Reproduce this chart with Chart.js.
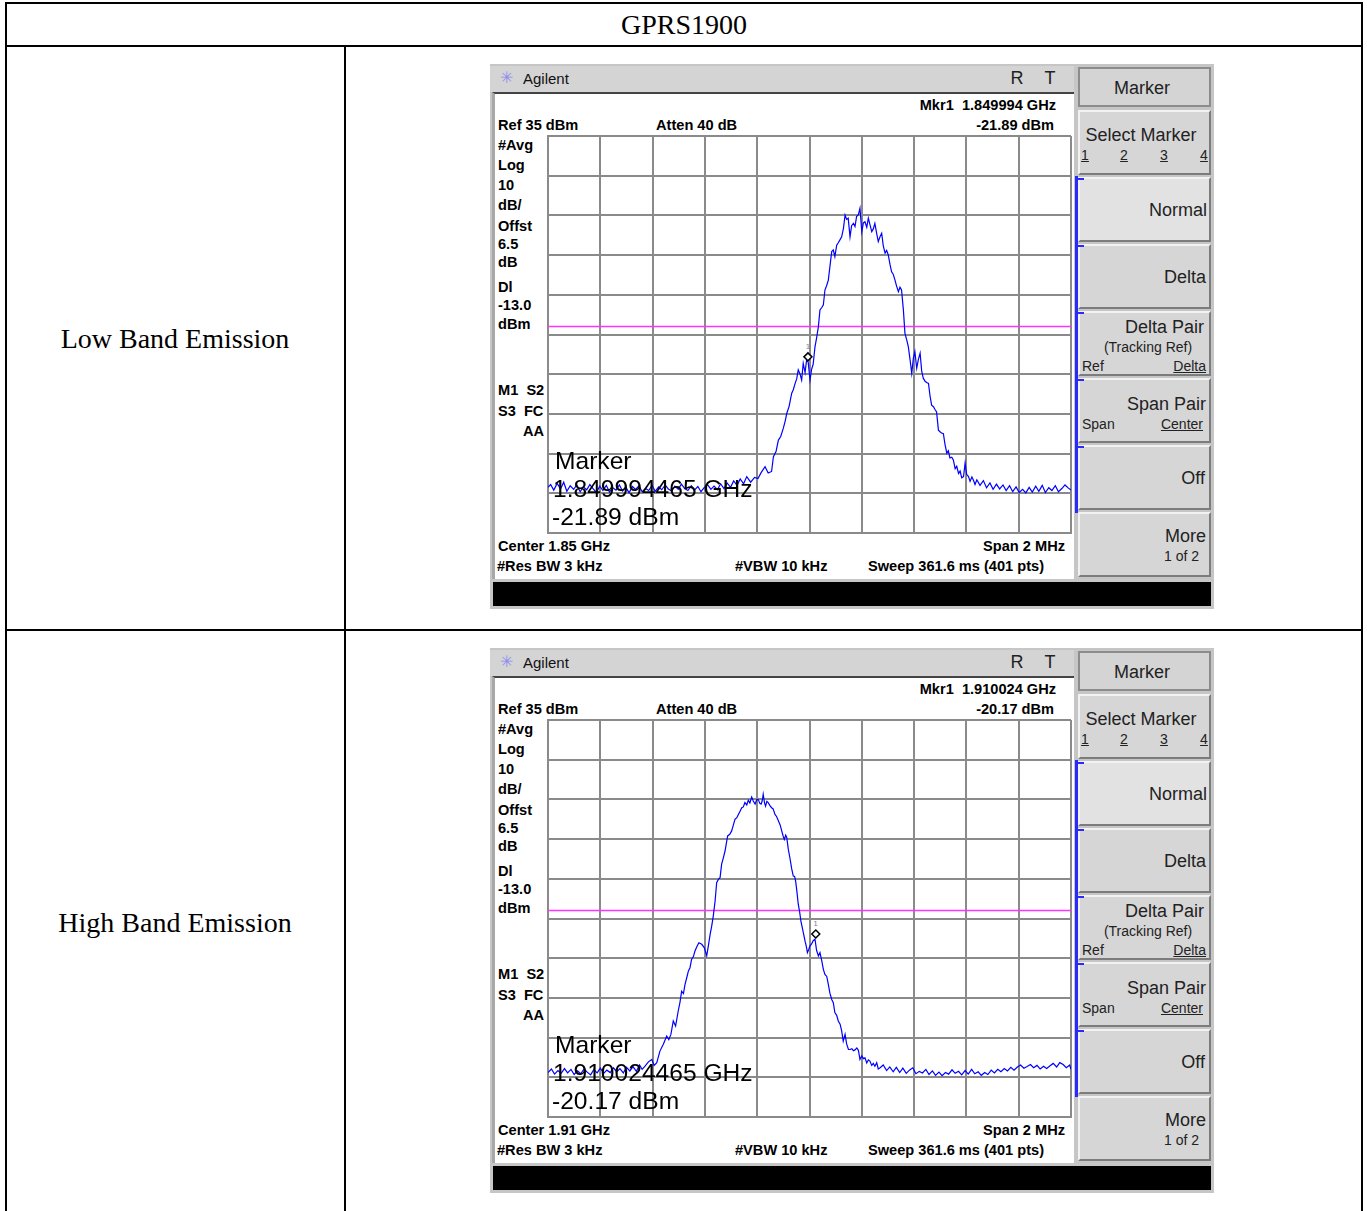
<!DOCTYPE html>
<html>
<head>
<meta charset="utf-8">
<title>GPRS1900</title>
<script src="https://cdn.jsdelivr.net/npm/chart.js@4.4.1/dist/chart.umd.min.js"></script>
<style>
  body { margin: 0; background: #fff; width: 1367px; height: 1211px; overflow: hidden; position: relative;
         font-family: "Liberation Sans", Arial, sans-serif; }
  .rule { position: absolute; background: #000; }
  .serif { position: absolute; font-family: "Liberation Serif", "Times New Roman", serif; font-size: 28px;
           line-height: 1; transform: translate(-50%, -50%); white-space: nowrap; }
  .panel { position: absolute; left: 490px; width: 724px; height: 545px; background: #c6c6c6; }
  .panel div { position: absolute; white-space: pre; line-height: 1; }
  .lbl { font-weight: bold; font-size: 14.6px; color: #000; }
  .key { background: #d6d6d6; border-top: 2px solid #f2f2f2; border-left: 2px solid #f2f2f2;
         border-right: 2px solid #7c7c7c; border-bottom: 2px solid #7c7c7c; box-sizing: border-box; color: #1a1a1a; }
  .u { text-decoration: underline; }
</style>
</head>
<body>

<div class="rule" style="left:5px; top:2px; width:1358px; height:2px;"></div>
<div class="rule" style="left:5px; top:45px; width:1358px; height:2px;"></div>
<div class="rule" style="left:5px; top:629px; width:1358px; height:2px;"></div>
<div class="rule" style="left:5px; top:2px; width:2px; height:1215px;"></div>
<div class="rule" style="left:1361px; top:2px; width:2px; height:1215px;"></div>
<div class="rule" style="left:344px; top:45px; width:2px; height:1170px;"></div>

<div class="serif" style="left:684px; top:25px;">GPRS1900</div>
<div class="serif" style="left:175px; top:339px;">Low Band Emission</div>
<div class="serif" style="left:175px; top:923px;">High Band Emission</div>

<script>
// ---- trace data: [offset from centre in kHz, level in dBm] ----
const lowTrace = [
  [-1000,-53.5],[-990,-52.8],[-978,-54.2],[-965,-52.5],[-952,-53.9],[-940,-52.2],[-928,-54.5],[-915,-53.1],
  [-902,-54.0],[-890,-52.9],[-877,-54.6],[-865,-53.4],[-852,-54.1],[-840,-52.8],[-827,-53.9],[-815,-54.8],
  [-802,-53.2],[-790,-54.3],[-777,-53.0],[-765,-54.7],[-752,-53.6],[-740,-54.2],[-727,-52.9],[-715,-54.4],
  [-702,-53.5],[-690,-54.9],[-677,-53.3],[-665,-54.0],[-652,-53.1],[-640,-54.6],[-627,-53.8],[-615,-54.3],
  [-602,-53.0],[-590,-54.5],[-577,-53.4],[-565,-54.1],[-552,-52.9],[-540,-53.9],[-527,-54.4],[-515,-53.2],
  [-502,-54.0],[-490,-52.7],[-477,-53.8],[-465,-54.3],[-452,-53.1],[-440,-54.2],[-427,-53.3],[-415,-54.6],
  [-402,-53.5],[-390,-52.8],[-377,-54.0],[-365,-53.2],[-352,-54.1],[-340,-52.6],[-327,-53.8],[-315,-52.4],
  [-302,-53.5],[-290,-51.9],[-277,-53.0],[-265,-51.4],[-252,-52.6],[-240,-50.8],[-225,-52.2],[-210,-51.0],
  [-197,-51.3],[-185,-49.8],[-170,-48.3],[-158,-49.9],[-145,-49.5],[-138,-45.8],[-128,-44.5],[-119,-41.6],
  [-110,-40.7],[-100,-38.6],[-93,-36.8],[-87,-34.9],[-78,-33.1],[-68,-29.8],[-62,-28.9],[-55,-27.3],
  [-49,-26.2],[-43,-23.9],[-36,-25.0],[-30,-26.5],[-24,-22.3],[-17,-24.6],[-11,-21.4],[-5,-22.0],
  [2,-26.5],[8,-23.8],[14,-22.5],[21,-18.1],[27,-15.9],[34,-13.0],[40,-8.8],[47,-8.2],[53,-7.5],
  [59,-3.8],[66,-2.6],[72,-1.3],[78,2.1],[85,5.9],[91,6.3],[97,4.6],[104,7.5],[110,8.1],[117,8.9],
  [123,9.6],[130,11.8],[136,15.1],[142,14.0],[148,14.3],[155,9.6],[161,12.4],[168,13.0],[174,12.2],
  [180,14.7],[187,15.2],[193,16.8],[200,10.9],[206,13.1],[212,13.4],[219,12.0],[225,14.3],[232,12.5],
  [238,10.9],[244,11.6],[250,13.0],[257,10.4],[263,8.4],[270,9.7],[276,10.5],[282,7.4],[289,5.5],
  [295,6.2],[301,5.1],[308,2.6],[314,0.8],[320,0.2],[327,-1.3],[333,-2.8],[340,-4.2],[346,-3.1],
  [352,-3.8],[359,-8.8],[365,-14.7],[372,-16.4],[378,-18.1],[385,-21.6],[391,-24.8],[397,-21.0],
  [403,-19.3],[410,-23.5],[416,-21.4],[423,-19.7],[429,-24.2],[435,-26.0],[442,-26.8],[448,-27.1],
  [455,-27.3],[461,-30.5],[467,-32.8],[474,-33.2],[480,-33.9],[486,-34.5],[493,-39.1],[499,-39.5],
  [505,-39.8],[512,-40.0],[518,-42.6],[525,-44.9],[531,-44.3],[537,-46.1],[544,-45.9],[550,-46.6],
  [557,-48.8],[563,-48.2],[570,-50.0],[576,-49.4],[582,-51.1],[589,-50.8],[595,-47.4],[601,-50.2],
  [608,-50.8],[614,-52.0],[621,-50.9],[627,-51.7],[633,-52.8],[640,-51.6],[652,-53.0],[665,-51.8],
  [677,-53.6],[690,-52.4],[702,-54.0],[715,-52.7],[727,-53.9],[740,-52.9],[752,-54.3],[765,-53.1],
  [777,-54.6],[790,-53.4],[802,-54.8],[815,-54.0],[827,-54.9],[840,-53.5],[852,-54.7],[865,-53.2],
  [877,-54.5],[890,-53.0],[902,-54.8],[915,-53.6],[927,-54.3],[940,-53.1],[952,-54.6],[965,-53.8],
  [977,-52.9],[990,-53.7],[1000,-54.2]
];

const highTrace = [
  [-1000,-53.8],[-987,-52.9],[-975,-54.2],[-962,-53.3],[-950,-54.0],[-937,-52.8],[-925,-53.9],[-912,-53.0],
  [-900,-54.3],[-887,-53.4],[-875,-54.1],[-862,-52.9],[-850,-53.7],[-837,-54.4],[-825,-53.1],[-812,-53.9],
  [-800,-52.7],[-787,-54.0],[-775,-53.2],[-762,-53.8],[-750,-52.6],[-737,-53.6],[-725,-52.8],[-712,-53.9],
  [-700,-52.5],[-687,-53.4],[-675,-52.3],[-662,-53.5],[-650,-51.9],[-640,-53.0],[-629,-52.2],[-616,-51.1],
  [-603,-50.5],[-594,-52.0],[-584,-51.3],[-572,-48.4],[-559,-46.7],[-546,-44.6],[-538,-45.5],[-530,-44.2],
  [-521,-40.8],[-512,-42.1],[-502,-38.3],[-495,-36.0],[-489,-33.3],[-482,-33.9],[-476,-31.6],[-469,-29.8],
  [-463,-28.2],[-457,-27.4],[-451,-25.3],[-444,-24.6],[-438,-23.2],[-430,-22.0],[-423,-21.1],[-412,-21.5],
  [-402,-22.4],[-393,-24.4],[-386,-21.6],[-380,-19.0],[-374,-16.9],[-368,-14.4],[-361,-10.6],[-355,-6.0],
  [-348,-5.1],[-342,-4.7],[-336,-1.3],[-329,0.4],[-323,2.0],[-318,3.9],[-313,5.8],[-305,6.2],[-298,7.0],
  [-291,8.6],[-285,10.0],[-278,10.4],[-272,11.2],[-265,12.1],[-259,12.9],[-253,13.1],[-247,14.2],
  [-240,13.6],[-234,14.8],[-228,14.1],[-221,15.6],[-215,14.6],[-208,13.8],[-202,14.9],[-196,15.0],
  [-190,14.0],[-185,13.8],[-181,14.6],[-177,16.3],[-172,14.1],[-168,13.3],[-163,14.5],[-158,14.2],
  [-152,13.5],[-145,12.9],[-139,12.6],[-132,11.2],[-126,10.7],[-119,9.6],[-112,8.5],[-106,7.0],
  [-100,5.6],[-96,4.9],[-91,6.0],[-87,5.4],[-81,2.4],[-75,0.3],[-68,-2.5],[-62,-4.3],[-57,-4.4],
  [-53,-5.6],[-48,-8.3],[-43,-11.4],[-38,-13.2],[-33,-15.6],[-25,-18.1],[-17,-20.7],[-12,-22.1],
  [-8,-23.6],[-3,-22.8],[2,-21.9],[8,-21.4],[14,-20.6],[21,-20.2],[27,-23.0],[34,-24.4],[40,-23.6],
  [47,-25.7],[53,-27.8],[59,-29.1],[66,-29.6],[72,-31.6],[78,-33.8],[85,-35.4],[91,-36.2],[97,-38.7],
  [104,-39.4],[110,-40.8],[117,-41.6],[123,-43.3],[129,-45.9],[136,-44.2],[142,-46.6],[149,-48.0],
  [155,-48.0],[162,-47.8],[168,-48.3],[174,-48.1],[181,-47.6],[187,-48.2],[193,-50.5],[200,-49.6],
  [206,-50.3],[212,-50.1],[219,-51.4],[225,-50.6],[231,-50.9],[238,-52.0],[244,-51.5],[250,-52.2],
  [257,-51.3],[263,-52.9],[270,-52.6],[282,-51.9],[295,-53.3],[307,-52.4],[320,-53.6],[332,-52.5],
  [345,-53.8],[357,-52.7],[370,-54.0],[382,-53.2],[395,-52.6],[407,-54.1],[420,-53.5],[432,-53.9],
  [445,-53.0],[457,-54.3],[470,-53.4],[482,-54.5],[495,-53.7],[507,-54.6],[520,-53.8],[532,-54.2],
  [545,-53.1],[557,-54.0],[570,-53.5],[582,-54.4],[595,-53.3],[607,-54.2],[620,-53.0],[632,-54.1],
  [645,-53.6],[657,-54.5],[670,-53.8],[682,-54.3],[695,-53.2],[707,-53.9],[720,-53.0],[732,-53.6],
  [745,-52.8],[757,-53.4],[770,-52.5],[782,-53.2],[795,-52.4],[807,-51.9],[820,-52.7],[832,-52.3],
  [845,-51.8],[857,-52.6],[870,-52.0],[882,-52.9],[895,-52.2],[907,-52.8],[920,-52.1],[932,-51.5],
  [945,-52.4],[957,-51.3],[970,-51.8],[982,-52.6],[995,-51.9],[1000,-53.0]
];

// screen settings
const refLevel = 35;
const dbPerDiv = 10;
const halfSpanKHz = 1000;
const displayLine = -13;
const lowMarker = { freq: -6, level: -21.89 };
const highMarker = { freq: 24, level: -20.17 };

const leftLabels = [['#Avg', 81], ['Log', 101], ['10', 121], ['dB/', 141], ['Offst', 162], ['6.5', 180],
  ['dB', 198], ['Dl', 223], ['-13.0', 241], ['dBm', 260], ['M1  S2', 326], ['S3  FC', 347]];

function txt(parent, text, x, cy, cls, align, style) {
  const d = document.createElement('div');
  d.className = cls || '';
  d.textContent = text;
  d.style.left = x + 'px';
  d.style.top = cy + 'px';
  const tx = align === 'right' ? '-100%' : align === 'center' ? '-50%' : '0';
  d.style.transform = 'translate(' + tx + ', -50%)';
  if (style) Object.assign(d.style, style);
  parent.appendChild(d);
  return d;
}

function box(parent, x, y, w, h, style) {
  const d = document.createElement('div');
  Object.assign(d.style, { left: x + 'px', top: y + 'px', width: w + 'px', height: h + 'px' }, style);
  parent.appendChild(d);
  return d;
}

const markerPlugin = {
  id: 'mkr',
  afterDatasetsDraw(chart, args, opts) {
    const { ctx, scales: { x, y } } = chart;
    const px = x.getPixelForValue(opts.freq);
    const py = y.getPixelForValue(opts.level) - 5;
    ctx.save();
    ctx.beginPath();
    ctx.moveTo(px, py - 4); ctx.lineTo(px + 4, py); ctx.lineTo(px, py + 4); ctx.lineTo(px - 4, py);
    ctx.closePath();
    ctx.fillStyle = '#fff'; ctx.fill();
    ctx.strokeStyle = '#000'; ctx.lineWidth = 1.5; ctx.stroke();
    ctx.fillStyle = '#808080'; ctx.font = '8px "Liberation Sans"'; ctx.textAlign = 'center';
    ctx.fillText('1', px, py - 8);
    ctx.restore();
  }
};

function buildPanel(top, centre, trace, marker) {
  const p = document.createElement('div');
  p.className = 'panel';
  p.style.top = top + 'px';
  document.body.appendChild(p);

  // title bar
  box(p, 0, 2, 584, 26, { background: '#d4d4d4' });
  txt(p, '\u2733', 10, 14, '', 'left', { fontSize: '16px', color: '#8c8cf0' });
  txt(p, 'Agilent', 33, 14, '', 'left', { fontSize: '15px', color: '#111' });
  txt(p, 'R', 527, 14, '', 'center', { fontSize: '18px', color: '#222' });
  txt(p, 'T', 560, 14, '', 'center', { fontSize: '18px', color: '#222' });

  // screen
  box(p, 2, 28, 582, 487, { background: '#fff', borderTop: '2px solid #444', borderLeft: '3px solid #a8a8a8', boxSizing: 'border-box' });
  box(p, 3, 518, 718, 24, { background: '#000' });

  txt(p, 'Mkr1  ' + (centre === 1.85 ? '1.849994' : '1.910024') + ' GHz', 566, 41, 'lbl', 'right');
  txt(p, 'Ref 35 dBm', 8, 61, 'lbl');
  txt(p, 'Atten 40 dB', 166, 61, 'lbl');
  txt(p, marker.level.toFixed(2) + ' dBm', 564, 61, 'lbl', 'right');
  leftLabels.forEach(([t, y]) => txt(p, t, 8, y, 'lbl'));
  txt(p, 'AA', 54, 367, 'lbl', 'right');
  txt(p, 'Center ' + centre + ' GHz', 8, 482, 'lbl');
  txt(p, 'Span 2 MHz', 575, 482, 'lbl', 'right');
  txt(p, '#Res BW 3 kHz', 7, 502, 'lbl');
  txt(p, '#VBW 10 kHz', 245, 502, 'lbl');
  txt(p, 'Sweep 361.6 ms (401 pts)', 378, 502, 'lbl');

  // softkeys
  box(p, 588, 3, 133, 40, { background: '#d4d4d4', border: '2px solid #8c8c8c', boxSizing: 'border-box' });
  txt(p, 'Marker', 652, 24, '', 'center', { fontSize: '18px', color: '#222' });
  box(p, 585, 112, 3, 337, { background: '#2a2aff' });
  const keyTops = [46, 113, 180, 247, 314, 381, 448];
  keyTops.forEach((ky, i) => {
    const k = box(p, 588, ky, 133, 65, {});
    k.className = 'key';
    if (i === 1) k.style.background = '#e2e2e2';
    if (i >= 1 && i <= 5) box(p, 585, ky + 1, 9, 2, { background: '#2a2aff' });
  });
  const big = { fontSize: '18px', color: '#222' };
  const sm = { fontSize: '14px', color: '#222' };
  txt(p, 'Select Marker', 651, 46 + 25, '', 'center', big);
  [[595, '1'], [634, '2'], [674, '3'], [714, '4']].forEach(([x, t]) => txt(p, t, x, 46 + 45, 'u', 'center', sm));
  txt(p, 'Normal', 717, 113 + 33, '', 'right', big);
  txt(p, 'Delta', 716, 180 + 33, '', 'right', big);
  txt(p, 'Delta Pair', 714, 247 + 16, '', 'right', big);
  txt(p, '(Tracking Ref)', 658, 247 + 36, '', 'center', sm);
  txt(p, 'Ref', 592, 247 + 55, '', 'left', sm);
  txt(p, 'Delta', 716, 247 + 55, 'u', 'right', sm);
  txt(p, 'Span Pair', 716, 314 + 26, '', 'right', big);
  txt(p, 'Span', 592, 314 + 46, '', 'left', sm);
  txt(p, 'Center', 713, 314 + 46, 'u', 'right', sm);
  txt(p, 'Off', 715, 381 + 33, '', 'right', big);
  txt(p, 'More', 716, 448 + 24, '', 'right', big);
  txt(p, '1 of 2', 709, 448 + 44, '', 'right', sm);

  // plot
  const cv = document.createElement('canvas');
  cv.width = 527; cv.height = 401;
  cv.style.position = 'absolute'; cv.style.left = '56px'; cv.style.top = '70px';
  p.appendChild(cv);

  new Chart(cv.getContext('2d'), {
    type: 'line',
    data: {
      datasets: [
        {
          data: trace.map(([f, l]) => ({ x: f, y: l })),
          borderColor: '#0000ff', borderWidth: 1.2, pointRadius: 0, tension: 0, order: 0
        },
        {
          data: [{ x: -halfSpanKHz, y: displayLine }, { x: halfSpanKHz, y: displayLine }],
          borderColor: '#ff33ff', borderWidth: 1.5, pointRadius: 0, order: 1
        }
      ]
    },
    options: {
      responsive: false,
      animation: false,
      events: [],
      layout: { padding: 2 },
      plugins: { legend: { display: false }, tooltip: { enabled: false }, mkr: marker },
      scales: {
        x: {
          type: 'linear', min: -halfSpanKHz, max: halfSpanKHz,
          ticks: { display: false, stepSize: 200 },
          grid: { color: '#8a8a8a', lineWidth: 2, drawTicks: false },
          border: { color: '#8a8a8a', width: 2 }
        },
        y: {
          min: refLevel - 10 * dbPerDiv, max: refLevel,
          ticks: { display: false, stepSize: dbPerDiv },
          grid: { color: '#8a8a8a', lineWidth: 2, drawTicks: false },
          border: { color: '#8a8a8a', width: 2 }
        }
      }
    },
    plugins: [markerPlugin]
  });

  // marker readout written over the trace
  const mhz = centre === 1.85 ? '1.849994465' : '1.910024465';
  const big24 = { fontSize: '24.6px' };
  txt(p, 'Marker', 65, 397, '', 'left', big24);
  txt(p, mhz + ' GHz', 63, 425, '', 'left', big24);
  txt(p, marker.level.toFixed(2) + ' dBm', 62, 453, '', 'left', big24);
}

buildPanel(64, 1.85, lowTrace, lowMarker);
buildPanel(648, 1.91, highTrace, highMarker);
</script>
</body>
</html>
